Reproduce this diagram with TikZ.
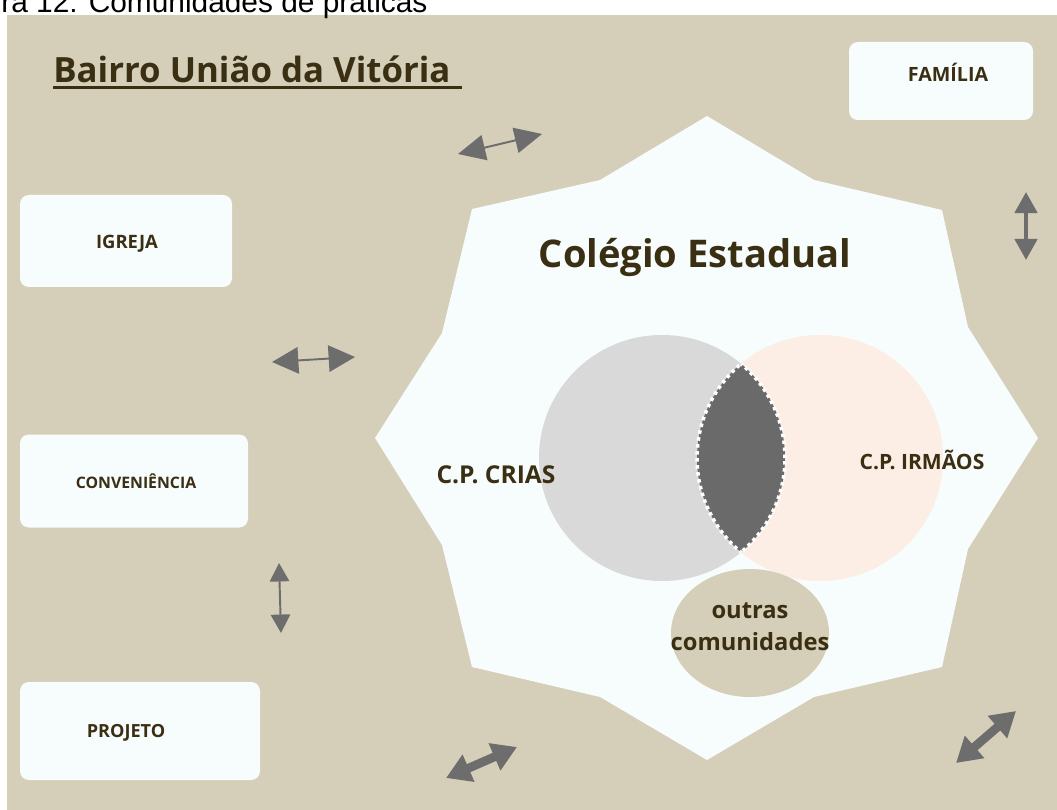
\documentclass[tikz,border=0pt]{standalone}
\usepackage{fontspec}
\setmainfont{Open Sans}
\newfontfamily\capfont{Liberation Sans}
\usetikzlibrary{arrows.meta,shapes.geometric}
\newdimen\pxu \pxu=0.02cm
\definecolor{beige}{HTML}{D5CEB9}
\definecolor{paper}{HTML}{F7FCFD}
\definecolor{greyc}{HTML}{D9D9D9}
\definecolor{peach}{HTML}{FCEDE5}
\definecolor{lensc}{HTML}{6A6A6A}
\definecolor{arrowc}{HTML}{6D6D6D}
\definecolor{ink}{HTML}{3A2F12}
\begin{document}
\begin{tikzpicture}[x=0.02cm,y=-0.02cm,
  box/.style={fill=paper, rounded corners=5pt, inner sep=0pt},
  boxtext/.style={anchor=base, inner sep=0pt, text=ink, font=\bfseries\fontsize{10.5}{12}\selectfont},
  smalltext/.style={boxtext, font=\bfseries\fontsize{9}{11}\selectfont},
  lbl/.style={anchor=base, inner sep=0pt, text=ink},
  circ/.style={circle, inner sep=0pt, minimum size=246*\pxu},
  dashline/.style={white, line width=2pt, dash pattern=on 2pt off 2pt},
  thinarr/.style={arrowc, line width=1.1pt},
  thickarr/.style={arrowc, line width=5pt}
]
\useasboundingbox (0,0) rectangle (1057,810);
\clip (0,0) rectangle (1057,810);
\fill[beige] (7,15) rectangle (1057,810);
\node[anchor=base west, inner sep=0pt, font=\capfont\fontsize{17}{20}\selectfont] (cap) at (1,13) {ra 12: Comunidades de práticas};

% title
\node[lbl, anchor=base west, font=\bfseries\fontsize{19.8}{24}\selectfont] (title) at (53,83) {Bairro União da Vitória};
\draw[ink, line width=1.6pt] ([yshift=-2.4pt]title.base west) -- ([yshift=-2.4pt, xshift=11*\pxu]title.base east);

% star
\fill[paper] (707,116) -- (814,180) -- (942,210) -- (968,327) -- (1038,438) -- (968,549) -- (942,667) -- (814,697) -- (707,760) -- (600,697) -- (472,667) -- (442,545) -- (375,438) -- (442,333) -- (472,209) -- (600,180) -- cycle;

% boxes
\node[box, minimum width=184*\pxu, minimum height=78*\pxu] (familia) at (941,81) {};
\node[boxtext, font=\bfseries\fontsize{11.2}{13}\selectfont] (familiaT) at (948,82) {FAMÍLIA};
\node[box, minimum width=212*\pxu, minimum height=92*\pxu] (igreja) at (126,241) {};
\node[boxtext] (igrejaT) at (127,249) {IGREJA};
\node[box, minimum width=228*\pxu, minimum height=93*\pxu] (conv) at (134,481) {};
\node[smalltext] (convT) at (136,488) {CONVENIÊNCIA};
\node[box, minimum width=240*\pxu, minimum height=98*\pxu] (projeto) at (140,731) {};
\node[smalltext, font=\bfseries\fontsize{10.3}{12}\selectfont] (projetoT) at (126,737) {PROJETO};

% circles
\node[circ, fill=peach] (irmaos) at (820,458) {};
\node[circ, fill=greyc] (crias) at (662,458) {};
\begin{scope}
  \clip (crias.center) circle[radius=2.46cm];
  \fill[lensc] (irmaos.center) circle[radius=2.46cm];
  \draw[dashline] (irmaos.center) circle[radius=2.46cm];
\end{scope}
\begin{scope}
  \clip (irmaos.center) circle[radius=2.46cm];
  \draw[dashline] (crias.center) circle[radius=2.46cm];
\end{scope}

\node[ellipse, fill=beige, inner sep=0pt, minimum width=158*\pxu, minimum height=128*\pxu] (outras) at (750,633) {};
\node[align=center, inner sep=0pt, text=ink, font=\bfseries\fontsize{13.5}{18.5}\selectfont] (outrasT) at (750,627) {outras\\comunidades};

% labels
\node[lbl, font=\bfseries\fontsize{21.7}{26}\selectfont] (colegio) at (695,268) {Colégio Estadual};
\node[lbl, font=\bfseries\fontsize{14}{17}\selectfont] (criasT) at (496,483) {C.P. CRIAS};
\node[lbl, font=\bfseries\fontsize{12}{14}\selectfont] (irmaosT) at (922,469) {C.P. IRMÃOS};

% arrows
\coordinate (a1s) at (458,154); \coordinate (a1e) at (542,134);
\coordinate (a2s) at (272,362); \coordinate (a2e) at (355,357);
\coordinate (a3s) at (1026,192); \coordinate (a3e) at (1026,260);
\coordinate (a4s) at (279,563); \coordinate (a4e) at (281,633);
\coordinate (a5s) at (446,778); \coordinate (a5e) at (517,747);
\coordinate (a6s) at (956,763); \coordinate (a6e) at (1016,711);
\draw[thinarr, {Triangle[length=15.5pt,width=14.5pt]}-{Triangle[length=15.5pt,width=14.5pt]}] (a1s) -- (a1e);
\draw[thinarr, {Triangle[length=15pt,width=15pt]}-{Triangle[length=15pt,width=15pt]}] (a2s) -- (a2e);
\draw[arrowc, line width=2.8pt, {Triangle[length=12pt,width=12.5pt]}-{Triangle[length=12pt,width=12.5pt]}] (a3s) -- (a3e);
\draw[thinarr, {Triangle[length=10.5pt,width=11pt]}-{Triangle[length=10.5pt,width=11pt]}] (a4s) -- (a4e);
\draw[thickarr, {Triangle[length=14pt,width=16pt]}-{Triangle[length=14pt,width=16pt]}] (a5s) -- (a5e);
\draw[thickarr, {Triangle[length=14pt,width=16pt]}-{Triangle[length=14pt,width=16pt]}] (a6s) -- (a6e);
\end{tikzpicture}
\end{document}
